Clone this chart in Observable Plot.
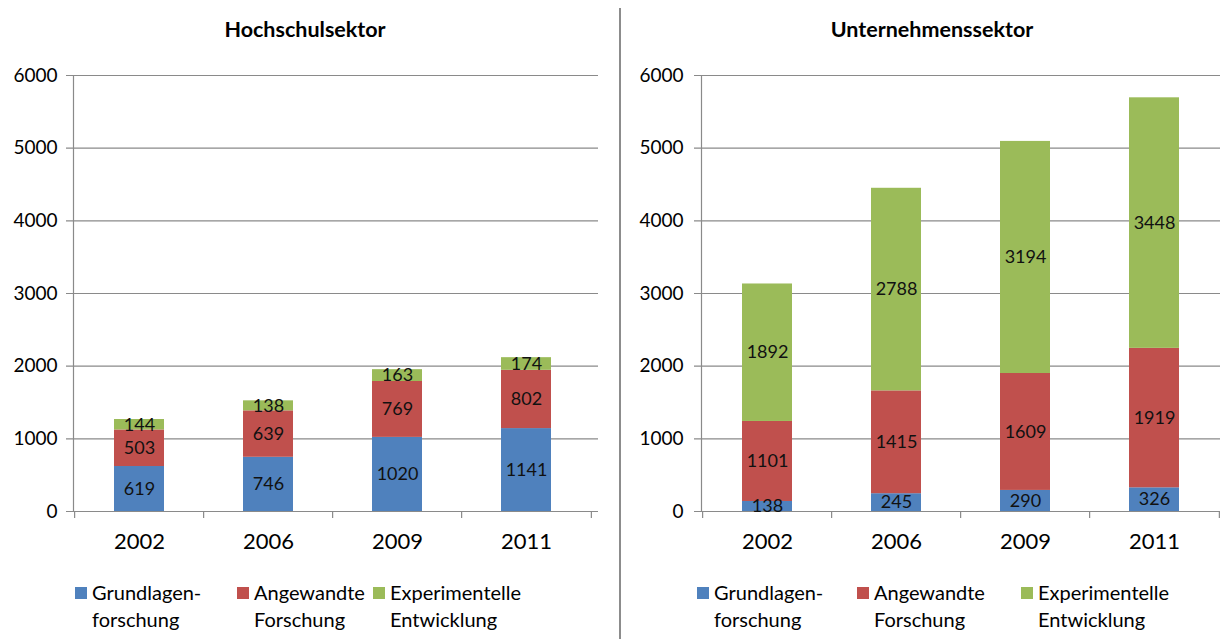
<!DOCTYPE html>
<html>
<head>
<meta charset="utf-8">
<script src="https://cdn.jsdelivr.net/npm/d3@7"></script>
<script src="https://cdn.jsdelivr.net/npm/@observablehq/plot@0.6"></script>
<style>
  body { margin: 0; background: #fff; font-family: Lato, "Open Sans", sans-serif; }
  #wrap { position: relative; width: 1220px; height: 639px; overflow: hidden; background: #fff; }
  .panel { position: absolute; top: 0; }
  .title { position: absolute; top: 16px; font-weight: bold; font-size: 21.5px; color: #000; text-align: center; }
  .divider { position: absolute; left: 619px; top: 8px; width: 2px; height: 640px; background: #8c8c8c; }
  .legend { position: absolute; top: 579px; font-size: 20px; line-height: 27px; color: #000; }
  .item { position: absolute; top: 0; white-space: nowrap; }
  .sw { position: absolute; top: 8px; width: 12px; height: 12px; }
  .lt { position: absolute; left: 17px; top: 0; }
</style>
</head>
<body>
<div id="wrap"></div>
<script>
// ---- data ----
const years = ["2002", "2006", "2009", "2011"];
const categories = ["Grundlagenforschung", "Angewandte Forschung", "Experimentelle Entwicklung"];
const legendLines = [["Grundlagen-", "forschung"], ["Angewandte", "Forschung"], ["Experimentelle", "Entwicklung"]];
const colors = ["#4F81BD", "#C0504D", "#9BBB59"];
const hochGrund = [619, 746, 1020, 1141];
const hochAngew = [503, 639, 769, 802];
const hochExp = [144, 138, 163, 174];
const untGrund = [138, 245, 290, 326];
const untAngew = [1101, 1415, 1609, 1919];
const untExp = [1892, 2788, 3194, 3448];
const yTicks = [0, 1000, 2000, 3000, 4000, 5000, 6000];
const titles = ["Hochschulsektor", "Unternehmenssektor"];

function rowsOf(series) {
  const rows = [];
  years.forEach((yr, i) => {
    series.forEach((s, k) => rows.push({year: yr, cat: categories[k], value: s[i]}));
  });
  return rows;
}

const gridColor = "#8a8a8a";

function makePlot(rows, cfg) {
  const step = (cfg.width - cfg.marginLeft - cfg.marginRight) / years.length;
  return Plot.plot({
    width: cfg.width,
    height: 560,
    marginLeft: cfg.marginLeft,
    marginRight: cfg.marginRight,
    marginTop: 75,
    marginBottom: 49,
    style: {fontFamily: "Lato, 'Open Sans', sans-serif", color: "#000", background: "transparent"},
    x: {domain: years, paddingInner: 0.61, paddingOuter: 0.305},
    y: {domain: [0, 6000]},
    color: {domain: categories, range: colors},
    marks: [
      Plot.ruleY(yTicks, {stroke: gridColor, strokeWidth: 1.2, insetLeft: -7, insetRight: cfg.gridExtend}),
      Plot.barY(rows, {x: "year", y: "value", fill: "cat"}),
      Plot.text(rows, Plot.stackY({x: "year", y: "value", text: d => String(d.value), fontSize: 18, fill: "#111"})),
      Plot.frame({anchor: "left", stroke: gridColor, strokeWidth: 1.2}),
      Plot.ruleX(years, {x: d => d, y1: 0, y2: 0, dx: -step / 2, insetBottom: -7, stroke: gridColor, strokeWidth: 1.2}),
      Plot.ruleX(years.slice(-1), {x: d => d, y1: 0, y2: 0, dx: step / 2, insetBottom: -7, stroke: gridColor, strokeWidth: 1.2}),
      Plot.axisY({ticks: yTicks, tickSize: 0, tickPadding: cfg.tickPad, fontSize: 19, tickFormat: d => String(d), label: null}),
      Plot.axisX({tickSize: 0, tickPadding: 22, fontSize: 22, label: null})
    ]
  });
}

const wrap = document.getElementById("wrap");

const panels = [
  {left: 0, width: 600, marginLeft: 73, marginRight: 8, tickPad: 16, gridExtend: -6, data: [hochGrund, hochAngew, hochExp], titleCenter: 305,
   legendX: [75, 237, 373]},
  {left: 620, width: 600, marginLeft: 81, marginRight: 0, tickPad: 18, gridExtend: 0, data: [untGrund, untAngew, untExp], titleCenter: 932,
   legendX: [697, 857, 1021]}
];

panels.forEach((p, idx) => {
  const div = document.createElement("div");
  div.className = "panel";
  div.style.left = p.left + "px";
  div.appendChild(makePlot(rowsOf(p.data), p));
  wrap.appendChild(div);

  const t = document.createElement("div");
  t.className = "title";
  t.textContent = titles[idx];
  t.style.left = (p.titleCenter - 150) + "px";
  t.style.width = "300px";
  wrap.appendChild(t);

  const lg = document.createElement("div");
  lg.className = "legend";
  lg.style.left = "0px";
  categories.forEach((c, k) => {
    const it = document.createElement("div");
    it.className = "item";
    it.style.left = p.legendX[k] + "px";
    const sw = document.createElement("span");
    sw.className = "sw";
    sw.style.background = colors[k];
    const tx = document.createElement("span");
    tx.className = "lt";
    tx.innerHTML = legendLines[k].join("<br>");
    it.appendChild(sw);
    it.appendChild(tx);
    lg.appendChild(it);
  });
  wrap.appendChild(lg);
});

const dv = document.createElement("div");
dv.className = "divider";
wrap.appendChild(dv);
</script>
</body>
</html>
